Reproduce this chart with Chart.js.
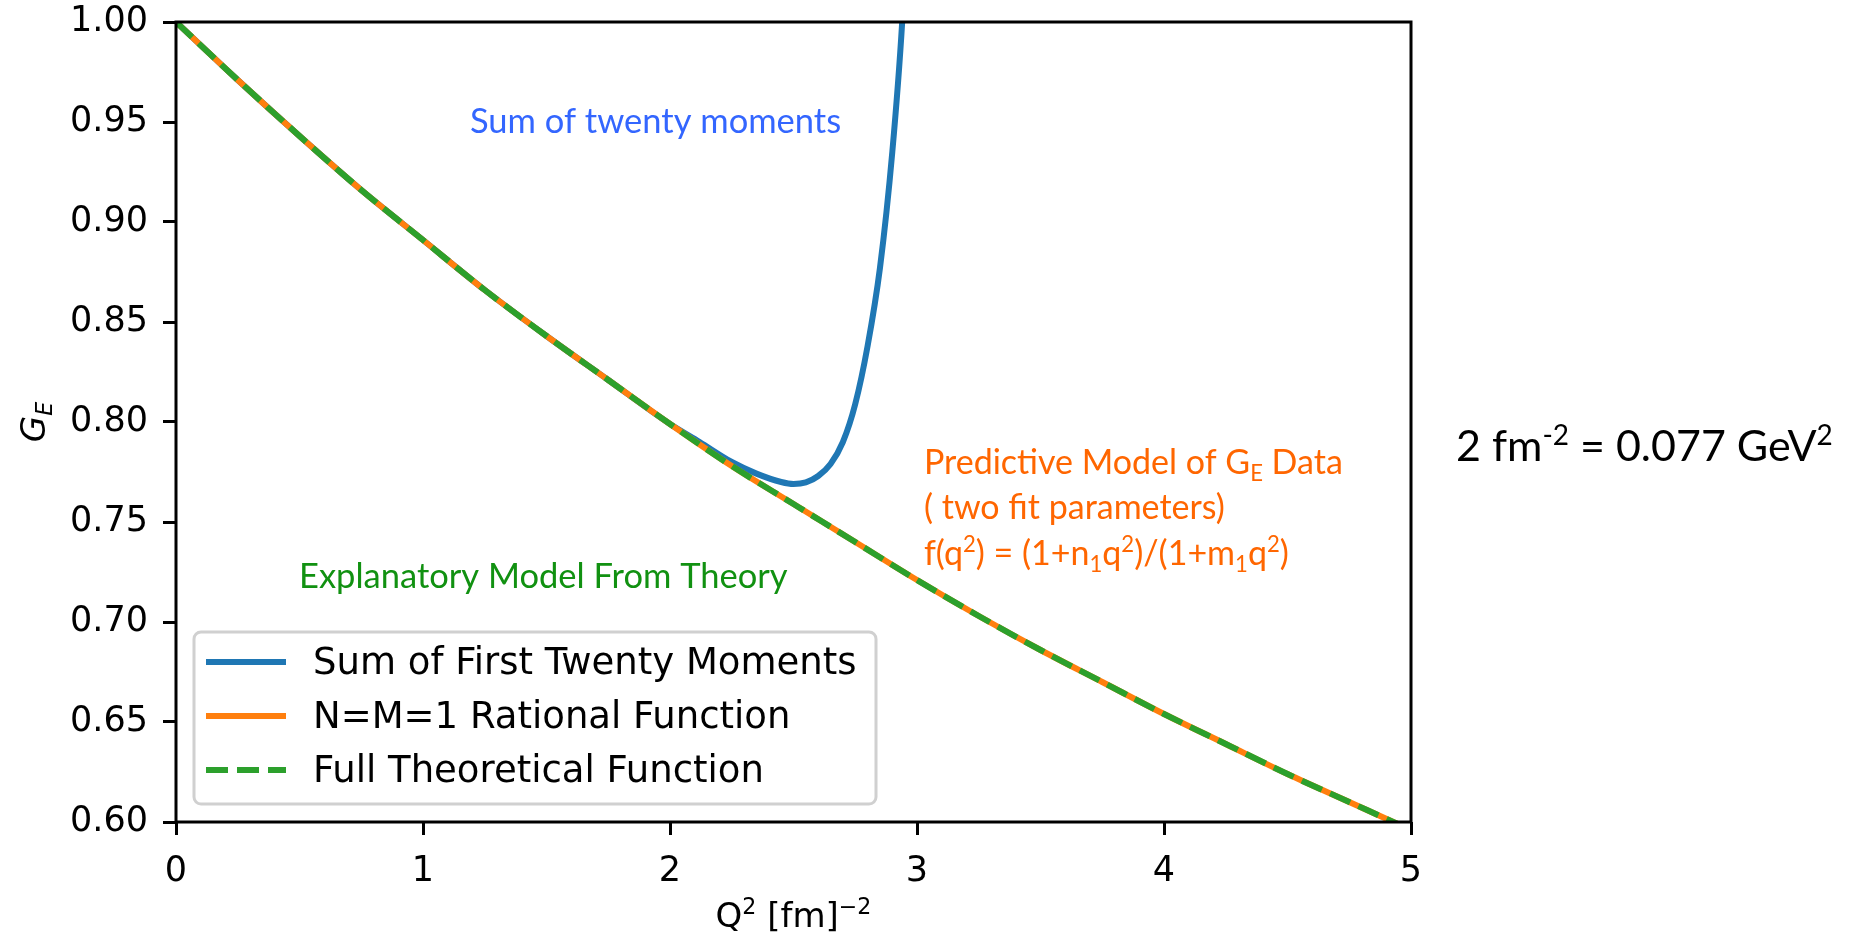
<!DOCTYPE html>
<html>
<head>
<meta charset="utf-8">
<script src="https://cdn.jsdelivr.net/npm/chart.js@4.4.1/dist/chart.umd.min.js"></script>
<style>
    html, body { margin: 0; padding: 0; background: #fff; }
    #wrap { width: 1862px; height: 939px; }
</style>
</head>
<body>
<div id="wrap"><canvas id="chart" width="1862" height="939"></canvas></div>
<script>
// values
const q2Grid = [0, 0.25, 0.5, 0.75, 1, 1.25, 1.5, 1.75, 2, 2.25, 2.5, 2.75, 3, 3.25, 3.5, 3.75, 4, 4.25, 4.5, 4.75, 5];
const rationalValues = [1.000, 0.971, 0.943, 0.916, 0.891, 0.866, 0.843, 0.821, 0.799, 0.778, 0.759, 0.740, 0.721, 0.703, 0.686, 0.670, 0.654, 0.639, 0.624, 0.610, 0.596];
const theoryValues = [1.000, 0.971, 0.943, 0.916, 0.891, 0.866, 0.843, 0.821, 0.799, 0.778, 0.759, 0.740, 0.721, 0.703, 0.686, 0.670, 0.654, 0.639, 0.624, 0.610, 0.596];
const momentsQ2 = [0, 0.25, 0.5, 0.75, 1, 1.25, 1.5, 1.75, 2, 2.12, 2.25, 2.35, 2.45, 2.5, 2.55, 2.6, 2.65, 2.7, 2.75, 2.8, 2.85, 2.9, 2.94, 2.96];
const momentsValues = [1.000, 0.971, 0.943, 0.916, 0.891, 0.866, 0.843, 0.821, 0.799, 0.790, 0.780, 0.7742, 0.7700, 0.7690, 0.7698, 0.7730, 0.7790, 0.790, 0.809, 0.838, 0.877, 0.935, 1.0, 1.05];
const xTicks = [0, 1, 2, 3, 4, 5];
const yTicks = [0.60, 0.65, 0.70, 0.75, 0.80, 0.85, 0.90, 0.95, 1.00];
const seriesNames = ["Sum of First Twenty Moments", "N=M=1 Rational Function", "Full Theoretical Function"];

const BLUE = "#1f77b4", ORANGE = "#ff7f0e", GREEN = "#2ca02c";
const TICK_FONT = "DejaVu Sans";
const NOTE_FONT = "Lato";

function toPoints(xs, ys) {
    return xs.map((x, i) => ({ x: x, y: ys[i] }));
}

// draws text runs with superscripts / subscripts, left aligned at (x, y) baseline
function drawRich(ctx, parts, x, y, size, family, color, italic) {
    ctx.save();
    ctx.fillStyle = color;
    ctx.textBaseline = "alphabetic";
    ctx.textAlign = "left";
    let cx = x;
    parts.forEach((p) => {
        const s = p.sup || p.sub ? size * 0.65 : size;
        ctx.font = (italic ? "italic " : "") + s + "px '" + family + "'";
        let dy = 0;
        if (p.sup) dy = -size * 0.38;
        if (p.sub) dy = size * 0.2;
        ctx.fillText(p.t, cx, y + dy);
        cx += ctx.measureText(p.t).width;
    });
    ctx.restore();
    return cx - x;
}

function richWidth(ctx, parts, size, family, italic) {
    ctx.save();
    let w = 0;
    parts.forEach((p) => {
        const s = p.sup || p.sub ? size * 0.65 : size;
        ctx.font = (italic ? "italic " : "") + s + "px '" + family + "'";
        w += ctx.measureText(p.t).width;
    });
    ctx.restore();
    return w;
}

const framePlugin = {
    id: "frame",
    afterDatasetsDraw(chart) {
        const { ctx, chartArea: a } = chart;
        ctx.save();
        ctx.strokeStyle = "#000";
        ctx.lineWidth = 3;
        ctx.strokeRect(a.left, a.top, a.right - a.left, a.bottom - a.top);
        ctx.restore();
    },
};

const legendPlugin = {
    id: "boxLegend",
    afterDraw(chart) {
        const ctx = chart.ctx;
        const a = chart.chartArea;
        const x0 = a.left + 18, y0 = a.bottom - 190, w = 682, h = 172;
        ctx.save();
        ctx.beginPath();
        ctx.roundRect(x0, y0, w, h, 7);
        ctx.fillStyle = "rgba(255,255,255,0.85)";
        ctx.fill();
        ctx.strokeStyle = "#d0d0d0";
        ctx.lineWidth = 3;
        ctx.stroke();
        chart.data.datasets.forEach((ds, i) => {
            const yy = y0 + 30 + i * 54;
            ctx.beginPath();
            ctx.strokeStyle = ds.borderColor;
            ctx.lineWidth = ds.borderWidth;
            ctx.setLineDash(ds.borderDash || []);
            ctx.moveTo(x0 + 12, yy);
            ctx.lineTo(x0 + 92, yy);
            ctx.stroke();
            ctx.setLineDash([]);
            ctx.fillStyle = "#000";
            ctx.font = "37px '" + TICK_FONT + "'";
            ctx.textBaseline = "middle";
            ctx.fillText(ds.label, x0 + 119, yy + 2);
        });
        ctx.restore();
    },
};

const notesPlugin = {
    id: "notes",
    afterDraw(chart) {
        const ctx = chart.ctx;
        const xs = chart.scales.x, ys = chart.scales.y;
        const a = chart.chartArea;

        drawRich(ctx, [{ t: "Sum of twenty moments" }], xs.getPixelForValue(1.19), ys.getPixelForValue(0.9445), 34.5, NOTE_FONT, "#3366ff");
        drawRich(ctx, [{ t: "Explanatory Model From Theory" }], xs.getPixelForValue(0.498), ys.getPixelForValue(0.717), 34.5, NOTE_FONT, "#119111");

        const ox = xs.getPixelForValue(3.028);
        drawRich(ctx, [{ t: "Predictive Model of G" }, { t: "E", sub: true }, { t: " Data" }], ox, ys.getPixelForValue(0.774), 34, NOTE_FONT, "#ff6600");
        drawRich(ctx, [{ t: "( two fit parameters)" }], ox, ys.getPixelForValue(0.7515), 34, NOTE_FONT, "#ff6600");
        drawRich(ctx, [{ t: "f(q" }, { t: "2", sup: true }, { t: ") = (1+n" }, { t: "1", sub: true }, { t: "q" }, { t: "2", sup: true },
            { t: ")/(1+m" }, { t: "1", sub: true }, { t: "q" }, { t: "2", sup: true }, { t: ")" }], ox, ys.getPixelForValue(0.7285), 34, NOTE_FONT, "#ff6600");

        drawRich(ctx, [{ t: "2 fm" }, { t: "-2", sup: true }, { t: " = 0.077 GeV" }, { t: "2", sup: true }], a.right + 45, 461, 43, NOTE_FONT, "#000");

        // x axis title
        const xt = [{ t: "Q" }, { t: "2", sup: true }, { t: " [fm]" }, { t: "\u22122", sup: true }];
        const xw = richWidth(ctx, xt, 34, TICK_FONT);
        drawRich(ctx, xt, (a.left + a.right) / 2 - xw / 2, 927, 34, TICK_FONT, "#000");

        // y axis title
        const yt = [{ t: "G" }, { t: "E", sub: true }];
        const yw = richWidth(ctx, yt, 34, TICK_FONT, true);
        ctx.save();
        ctx.translate(45, (a.top + a.bottom) / 2);
        ctx.rotate(-Math.PI / 2);
        drawRich(ctx, yt, -yw / 2, 0, 34, TICK_FONT, "#000", true);
        ctx.restore();
    },
};

const tickStyle = {
    drawOnChartArea: false,
    drawTicks: true,
    tickLength: 13,
    tickWidth: 3,
    tickColor: "#000",
};

new Chart(document.getElementById("chart"), {
    type: "scatter",
    data: {
        datasets: [
            {
                label: seriesNames[0],
                data: toPoints(momentsQ2, momentsValues),
                borderColor: BLUE,
                borderWidth: 6,
                order: 2,
            },
            {
                label: seriesNames[1],
                data: toPoints(q2Grid, rationalValues),
                borderColor: ORANGE,
                borderWidth: 6,
                order: 1,
            },
            {
                label: seriesNames[2],
                data: toPoints(q2Grid, theoryValues),
                borderColor: GREEN,
                borderWidth: 6,
                borderDash: [22, 9],
                order: 0,
            },
        ].map((ds) => Object.assign(ds, {
            showLine: true,
            pointRadius: 0,
            pointHoverRadius: 0,
            fill: false,
            cubicInterpolationMode: "monotone",
            borderCapStyle: "butt",
        })),
    },
    options: {
        responsive: false,
        devicePixelRatio: 1,
        animation: false,
        layout: { padding: { top: 22, right: 451, left: 0, bottom: 0 } },
        plugins: {
            legend: { display: false },
            tooltip: { enabled: false },
        },
        scales: {
            x: {
                type: "linear",
                min: 0,
                max: 5,
                afterBuildTicks: (s) => { s.ticks = xTicks.map((v) => ({ value: v })); },
                afterFit: (s) => {
                    s.height = 117;
                    s.paddingLeft = 0;
                    s.paddingRight = 0;
                },
                ticks: {
                    color: "#000",
                    font: { family: TICK_FONT, size: 35 },
                    padding: 16,
                    maxRotation: 0,
                    callback: (v) => String(v),
                },
                grid: tickStyle,
                border: { display: false },
            },
            y: {
                type: "linear",
                min: 0.6,
                max: 1.0,
                afterBuildTicks: (s) => { s.ticks = yTicks.map((v) => ({ value: v })); },
                afterFit: (s) => {
                    s.width = 176;
                    s.paddingTop = 0;
                    s.paddingBottom = 0;
                },
                ticks: {
                    color: "#000",
                    font: { family: TICK_FONT, size: 35 },
                    padding: 15,
                    callback: (v) => Number(v).toFixed(2),
                },
                grid: tickStyle,
                border: { display: false },
            },
        },
    },
    plugins: [framePlugin, legendPlugin, notesPlugin],
});
</script>
</body>
</html>
